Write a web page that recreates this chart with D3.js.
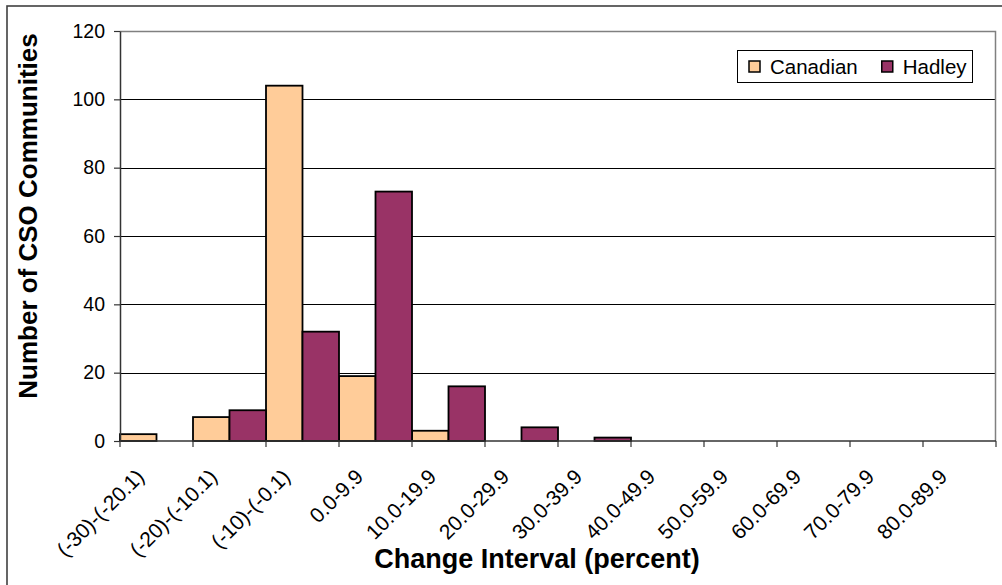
<!DOCTYPE html>
<html>
<head>
<meta charset="utf-8">
<style type="text/css">
  body {
    margin: 0;
    background: #ffffff;
  }
  #chart text {
    font-family: "Liberation Sans", Arial, sans-serif;
    fill: #000000;
  }
</style>
</head>
<body>
<svg id="chart" width="1002" height="585"></svg>

<script src="https://cdn.jsdelivr.net/npm/d3@7/dist/d3.min.js"></script>
<script type="text/javascript">
(function() {
  // bins of the change interval
  var categories = ["(-30)-(-20.1)", "(-20)-(-10.1)", "(-10)-(-0.1)", "0.0-9.9", "10.0-19.9",
                    "20.0-29.9", "30.0-39.9", "40.0-49.9", "50.0-59.9", "60.0-69.9",
                    "70.0-79.9", "80.0-89.9"];
  var canadian = [2, 7, 104, 19, 3, 0, 0, 0, 0, 0, 0, 0];
  var hadley = [0, 9, 32, 73, 16, 4, 1, 0, 0, 0, 0, 0];
  var seriesNames = ["Canadian", "Hadley"];
  var seriesColors = ["#FFCC99", "#993366"];
  var yTicks = [0, 20, 40, 60, 80, 100, 120];

  var svg = d3.select('#chart');
  var left = 120, top = 31, right = 996, bottom = 441;

  var x = d3.scaleBand()
    .domain(categories)
    .range([left, right])
    .padding(0);

  var y = d3.scaleLinear()
    .domain([0, 120])
    .range([bottom, top]);

  // outer chart border (runs off the page at right and bottom)
  svg.append('rect')
    .attr('x', 7).attr('y', 6)
    .attr('width', 1010).attr('height', 600)
    .attr('fill', '#ffffff')
    .attr('stroke', '#404040')
    .attr('stroke-width', 1.6);

  // gridlines
  svg.append('g')
    .selectAll('line')
    .data(yTicks.filter(function(d) { return d > 0; }))
    .enter().append('line')
    .attr('x1', left).attr('x2', right)
    .attr('y1', function(d) { return Math.round(y(d)) + 0.5; })
    .attr('y2', function(d) { return Math.round(y(d)) + 0.5; })
    .attr('stroke', '#000000')
    .attr('stroke-width', 1);

  // plot area border top / right
  svg.append('path')
    .attr('d', 'M' + left + ',' + (top + 0.5) + 'H' + (right - 0.5) + 'V' + bottom)
    .attr('fill', 'none')
    .attr('stroke', '#808080')
    .attr('stroke-width', 1.5);

  // bars
  var series = [canadian, hadley];
  var half = x.bandwidth() / 2;
  series.forEach(function(vals, si) {
    svg.append('g')
      .selectAll('rect')
      .data(categories.map(function(c, i) { return {cat: c, value: vals[i]}; })
        .filter(function(d) { return d.value > 0; }))
      .enter().append('rect')
      .attr('x', function(d) { return x(d.cat) + si * half; })
      .attr('y', function(d) { return y(d.value); })
      .attr('width', half)
      .attr('height', function(d) { return y(0) - y(d.value); })
      .attr('fill', seriesColors[si])
      .attr('stroke', '#000000')
      .attr('stroke-width', 1.8);
  });

  // y axis
  var yAxis = svg.append('g')
    .attr('transform', 'translate(' + left + ',0)')
    .call(d3.axisLeft(y).tickValues(yTicks).tickSize(6).tickPadding(9).tickSizeOuter(0));
  yAxis.select('.domain').attr('stroke', '#333333').attr('stroke-width', 1.5);
  yAxis.selectAll('.tick line').attr('stroke', '#333333').attr('stroke-width', 1.2);
  yAxis.selectAll('.tick text')
    .style('font-size', '19.5px');

  // x axis baseline and boundary ticks
  var boundaries = categories.map(function(c) { return x(c); }).concat([x.range()[1]]);
  svg.append('line')
    .attr('x1', left).attr('x2', right)
    .attr('y1', bottom).attr('y2', bottom)
    .attr('stroke', '#333333')
    .attr('stroke-width', 1.5);
  svg.append('g')
    .selectAll('line')
    .data(boundaries)
    .enter().append('line')
    .attr('x1', function(d) { return d; })
    .attr('x2', function(d) { return d; })
    .attr('y1', bottom).attr('y2', bottom + 6)
    .attr('stroke', '#333333')
    .attr('stroke-width', 1.2);

  // x tick labels, rotated
  svg.append('g')
    .selectAll('text')
    .data(categories)
    .enter().append('text')
    .attr('transform', function(d) {
      return 'translate(' + (x(d) + half - 11) + ',' + (bottom + 37) + ') rotate(-45)';
    })
    .attr('text-anchor', 'end')
    .style('font-size', '21px')
    .text(function(d) { return d; });

  // axis titles
  svg.append('text')
    .attr('transform', 'translate(37,216) rotate(-90)')
    .attr('text-anchor', 'middle')
    .style('font-size', '26px')
    .style('font-weight', 'bold')
    .text('Number of CSO Communities');

  svg.append('text')
    .attr('x', 537).attr('y', 568)
    .attr('text-anchor', 'middle')
    .style('font-size', '27px')
    .style('font-weight', 'bold')
    .text('Change Interval (percent)');

  // legend
  var legend = svg.append('g');
  legend.append('rect')
    .attr('x', 737.5).attr('y', 50.5)
    .attr('width', 235).attr('height', 32)
    .attr('fill', '#ffffff')
    .attr('stroke', '#000000')
    .attr('stroke-width', 1);

  var lx = 749;
  seriesNames.forEach(function(name, i) {
    legend.append('rect')
      .attr('x', lx).attr('y', 61)
      .attr('width', 11).attr('height', 11)
      .attr('fill', seriesColors[i])
      .attr('stroke', '#000000')
      .attr('stroke-width', 1.5);
    var t = legend.append('text')
      .attr('x', lx + 21).attr('y', 74)
      .style('font-size', '20.5px')
      .text(name);
    lx += 21 + t.node().getComputedTextLength() + 24;
  });

}());
</script>
</body>
</html>
